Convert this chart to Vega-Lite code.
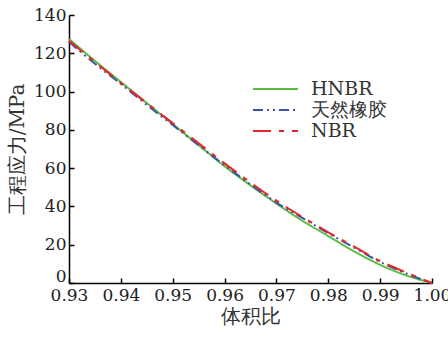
{
  "$schema": "https://vega.github.io/schema/vega-lite/v6.json",
  "width": 363,
  "height": 268,
  "autosize": "none",
  "padding": {"left": 69, "top": 15, "right": 16, "bottom": 55},
  "background": "white",
  "config": {
    "view": {"stroke": null},
    "font": "DejaVu Serif",
    "axis": {
      "grid": false,
      "domainColor": "#000",
      "domainWidth": 1.5,
      "tickColor": "#000",
      "tickWidth": 1.5,
      "tickSize": -5,
      "labelFont": "DejaVu Serif",
      "labelFontSize": 17,
      "labelColor": "#222",
      "labelFlush": false,
      "labelOverlap": false,
      "titleFont": "DejaVu Serif",
      "titleFontSize": 20,
      "titleFontWeight": "normal",
      "titleColor": "#333"
    },
    "legend": {"labelFont": "DejaVu Serif"}
  },
  "data": {
    "values": [
      {"v": 0.93, "s": 127.5, "m": "HNBR"},
      {"v": 0.935, "s": 116, "m": "HNBR"},
      {"v": 0.94, "s": 105, "m": "HNBR"},
      {"v": 0.945, "s": 94, "m": "HNBR"},
      {"v": 0.95, "s": 83, "m": "HNBR"},
      {"v": 0.955, "s": 72, "m": "HNBR"},
      {"v": 0.96, "s": 61, "m": "HNBR"},
      {"v": 0.965, "s": 51, "m": "HNBR"},
      {"v": 0.97, "s": 41.5, "m": "HNBR"},
      {"v": 0.975, "s": 32.5, "m": "HNBR"},
      {"v": 0.98, "s": 24.5, "m": "HNBR"},
      {"v": 0.985, "s": 16.5, "m": "HNBR"},
      {"v": 0.99, "s": 9.5, "m": "HNBR"},
      {"v": 0.995, "s": 4, "m": "HNBR"},
      {"v": 1.0, "s": 0, "m": "HNBR"},
      {"v": 0.93, "s": 126, "m": "天然橡胶"},
      {"v": 0.935, "s": 114.5, "m": "天然橡胶"},
      {"v": 0.94, "s": 104, "m": "天然橡胶"},
      {"v": 0.945, "s": 93, "m": "天然橡胶"},
      {"v": 0.95, "s": 82.5, "m": "天然橡胶"},
      {"v": 0.955, "s": 72, "m": "天然橡胶"},
      {"v": 0.96, "s": 61.5, "m": "天然橡胶"},
      {"v": 0.965, "s": 51.5, "m": "天然橡胶"},
      {"v": 0.97, "s": 42, "m": "天然橡胶"},
      {"v": 0.975, "s": 34, "m": "天然橡胶"},
      {"v": 0.98, "s": 26, "m": "天然橡胶"},
      {"v": 0.985, "s": 18.5, "m": "天然橡胶"},
      {"v": 0.99, "s": 11, "m": "天然橡胶"},
      {"v": 0.995, "s": 5, "m": "天然橡胶"},
      {"v": 1.0, "s": 0, "m": "天然橡胶"},
      {"v": 0.93, "s": 126.5, "m": "NBR"},
      {"v": 0.935, "s": 115.5, "m": "NBR"},
      {"v": 0.94, "s": 104.5, "m": "NBR"},
      {"v": 0.945, "s": 94, "m": "NBR"},
      {"v": 0.95, "s": 83.5, "m": "NBR"},
      {"v": 0.955, "s": 73, "m": "NBR"},
      {"v": 0.96, "s": 62.5, "m": "NBR"},
      {"v": 0.965, "s": 52.5, "m": "NBR"},
      {"v": 0.97, "s": 43, "m": "NBR"},
      {"v": 0.975, "s": 34.5, "m": "NBR"},
      {"v": 0.98, "s": 26.5, "m": "NBR"},
      {"v": 0.985, "s": 19, "m": "NBR"},
      {"v": 0.99, "s": 11.5, "m": "NBR"},
      {"v": 0.995, "s": 5.5, "m": "NBR"},
      {"v": 1.0, "s": 0, "m": "NBR"}
    ]
  },
  "mark": {"type": "line", "strokeWidth": 2, "interpolate": "monotone"},
  "encoding": {
    "x": {
      "field": "v", "type": "quantitative",
      "scale": {"domain": [0.93, 1.0], "nice": false, "zero": false},
      "axis": {"values": [0.93, 0.94, 0.95, 0.96, 0.97, 0.98, 0.99, 1.0], "format": ".2f", "title": "体积比", "labelPadding": 9, "titlePadding": 3}
    },
    "y": {
      "field": "s", "type": "quantitative",
      "scale": {"domain": [0, 140], "nice": false},
      "axis": {
        "values": [0, 20, 40, 60, 80, 100, 120, 140], "title": "工程应力/MPa", "labelPadding": 8, "titlePadding": 6,
        "labelOffset": {"condition": {"test": "datum.value == 0", "value": -7}, "value": 0}
      }
    },
    "color": {
      "field": "m", "type": "nominal",
      "scale": {"domain": ["HNBR", "天然橡胶", "NBR"], "range": ["#5bbb45", "#3b56a8", "#e3262b"]},
      "legend": {
        "title": null, "orient": "none", "legendX": 195.5, "legendY": 63,
        "symbolType": "M-2.25,0H2.25", "symbolSize": 400, "symbolStrokeWidth": 2,
        "labelFont": "DejaVu Serif", "labelFontSize": 19, "labelColor": "#333",
        "rowPadding": 0, "labelOffset": 24.5
      }
    },
    "strokeDash": {
      "field": "m", "type": "nominal",
      "scale": {"domain": ["HNBR", "天然橡胶", "NBR"], "range": [[1, 0], [10, 4, 2, 4, 2, 4], [18, 8, 5, 8]]},
      "legend": null
    }
  }
}
